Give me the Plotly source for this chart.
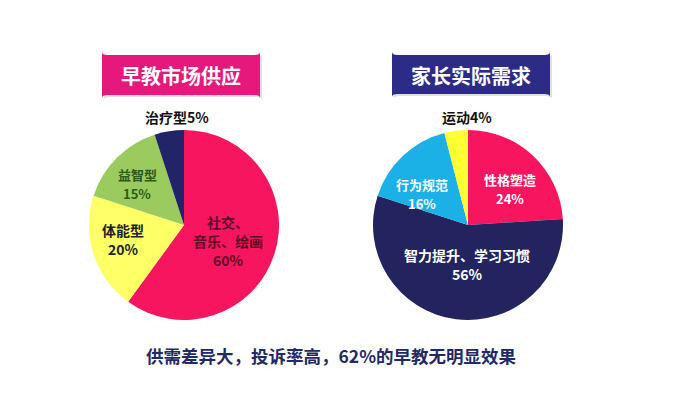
import plotly.graph_objects as go

W, H = 694, 398

supply_labels = ["社交、音乐、绘画", "体能型", "益智型", "治疗型"]
supply_values = [60, 20, 15, 5]
supply_colors = ["#F7155F", "#FFFF66", "#9BCB5E", "#232368"]

demand_labels = ["性格塑造", "智力提升、学习习惯", "行为规范", "运动"]
demand_values = [24, 56, 16, 4]
demand_colors = ["#F7155F", "#23235F", "#1BB0E6", "#FFFF33"]

title_left = "早教市场供应"
title_right = "家长实际需求"
footer = "供需差异大，投诉率高，62%的早教无明显效果"

FONT = "Noto Sans CJK SC"

def px(x):
    return x / W

def py(y):
    return 1 - y / H

fig = go.Figure()
fig.add_trace(go.Pie(
    labels=supply_labels, values=supply_values, sort=False, direction="clockwise",
    rotation=0, marker=dict(colors=supply_colors, line=dict(width=0)),
    textinfo="none", hoverinfo="label+percent", showlegend=False,
    domain=dict(x=[px(89), px(279)], y=[py(320), py(130)]),
))
fig.add_trace(go.Pie(
    labels=demand_labels, values=demand_values, sort=False, direction="clockwise",
    rotation=0, marker=dict(colors=demand_colors, line=dict(width=0)),
    textinfo="none", hoverinfo="label+percent", showlegend=False,
    domain=dict(x=[px(373), px(563)], y=[py(320), py(130)]),
))

def rrect(x0, y0, x1, y1, r):
    return (f"M{x0+r},{y0} L{x1-r},{y0} Q{x1},{y0} {x1},{y0+r} L{x1},{y1-r} "
            f"Q{x1},{y1} {x1-r},{y1} L{x0+r},{y1} Q{x0},{y1} {x0},{y1-r} "
            f"L{x0},{y0+r} Q{x0},{y0} {x0+r},{y0} Z")

shapes = []
for (x0, y0, x1, y1, col) in [(102, 55, 260, 95, "#E5187C"), (392, 55, 550, 94, "#2C2B86")]:
    shapes.append(dict(type="path", xref="paper", yref="paper",
                       path=rrect(px(x0 + 2), py(y0 + 2), px(x1 + 2), py(y1 + 2), 0.008),
                       fillcolor="rgba(0,0,0,0.12)", line=dict(width=0), layer="below"))
    shapes.append(dict(type="path", xref="paper", yref="paper",
                       path=rrect(px(x0), py(y0), px(x1), py(y1), 0.008),
                       fillcolor=col, line=dict(width=0), layer="below"))

ann = []
def add(text, x, y, size, color):
    ann.append(dict(text=f"<b>{text}</b>", x=px(x), y=py(y), xref="paper", yref="paper",
                    showarrow=False, xanchor="center", yanchor="middle",
                    font=dict(family=FONT, size=size, color=color)))

def add_lines(lines, x, y, size, color, gap):
    n = len(lines)
    for i, t in enumerate(lines):
        add(t, x, y + (i - (n - 1) / 2) * gap, size, color)

add(title_left, 181, 75, 20, "white")
add(title_right, 471, 75, 20, "white")

# left pie labels
add(f"{supply_labels[3]}{supply_values[3]}%", 177, 117, 14, "#111111")
add_lines([supply_labels[2], f"{supply_values[2]}%"], 137, 184, 13, "#2B5A1A", 18)
add_lines([supply_labels[1], f"{supply_values[1]}%"], 123, 239, 14, "#222222", 19)
add_lines(["社交、", "音乐、绘画", f"{supply_values[0]}%"], 228, 241, 14, "#5E0A28", 19)

# right pie labels
add(f"{demand_labels[3]}{demand_values[3]}%", 467, 117, 14, "#111111")
add_lines([demand_labels[2], f"{demand_values[2]}%"], 422, 194, 13, "white", 18)
add_lines([demand_labels[0], f"{demand_values[0]}%"], 510, 189, 13, "white", 18)
add_lines([demand_labels[1], f"{demand_values[1]}%"], 467, 264, 14, "white", 19)

add(footer, 331, 355, 17.5, "#1F2A66")

fig.update_layout(width=W, height=H, margin=dict(l=0, r=0, t=0, b=0),
                  paper_bgcolor="white", plot_bgcolor="white",
                  shapes=shapes, annotations=ann)

fig.write_html("out.html", config={"displayModeBar": False},
               post_script="document.body.style.margin='0';")
